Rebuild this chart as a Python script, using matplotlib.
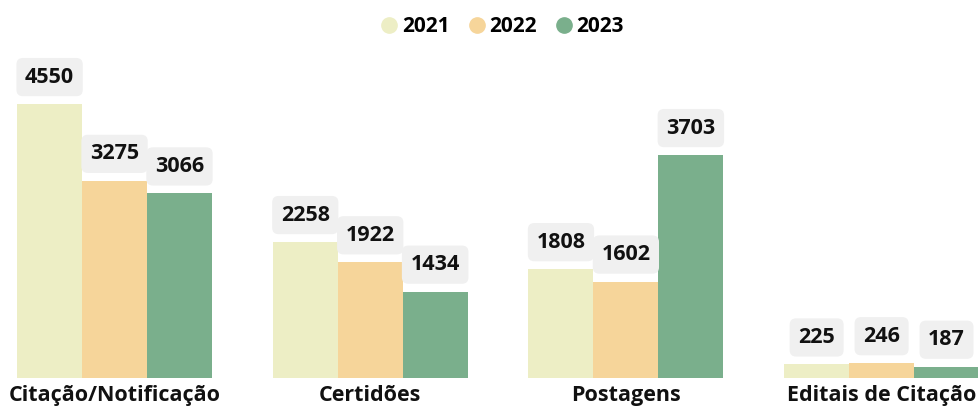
import matplotlib.pyplot as plt
from matplotlib.lines import Line2D
import numpy as np

plt.rcParams['font.family'] = ['Open Sans', 'DejaVu Sans']

categories = ["Citação/Notificação", "Certidões", "Postagens", "Editais de Citação"]
years = ["2021", "2022", "2023"]
v2021 = [4550, 2258, 1808, 225]
v2022 = [3275, 1922, 1602, 246]
v2023 = [3066, 1434, 3703, 187]
colors = ["#EDEEC5", "#F6D59A", "#7AAF8C"]

fig = plt.figure(figsize=(9.79, 4.12), dpi=100)
ax = fig.add_axes([0, 34 / 412, 1, 318 / 412])

x = np.arange(len(categories))
w = 0.254
for i, (vals, c) in enumerate(zip([v2021, v2022, v2023], colors)):
    pos = x + (i - 1) * w
    ax.bar(pos, vals, width=w, color=c, zorder=2)
    for px, v in zip(pos, vals):
        ax.annotate(str(v), (px, v), xytext=(0, 27), textcoords='offset pixels',
                    ha='center', va='center', fontsize=15.5, fontweight='bold',
                    color='#111111', zorder=5,
                    bbox=dict(boxstyle='round,pad=0.4,rounding_size=0.3',
                              fc='#F0F0F0', ec='none'))

ax.set_xlim(-0.448, 3.381)
ax.set_ylim(0, 318 / 0.0602)
ax.set_xticks(x)
ax.set_xticklabels(categories, fontsize=15.5, fontweight='bold', color='#111111')
ax.tick_params(axis='x', length=0, pad=5)
ax.set_yticks([])
for s in ax.spines.values():
    s.set_visible(False)

handles = [Line2D([], [], marker='o', ls='none', markersize=11, color=c, label=y)
           for y, c in zip(years, colors)]
fig.legend(handles=handles, loc='center', bbox_to_anchor=(0.511, 1 - 27 / 412), ncol=3,
           frameon=False, prop={'size': 15, 'weight': 'bold'},
           handletextpad=0.0, columnspacing=0.7, handlelength=1.2)

fig.savefig("out.png", dpi=100)
